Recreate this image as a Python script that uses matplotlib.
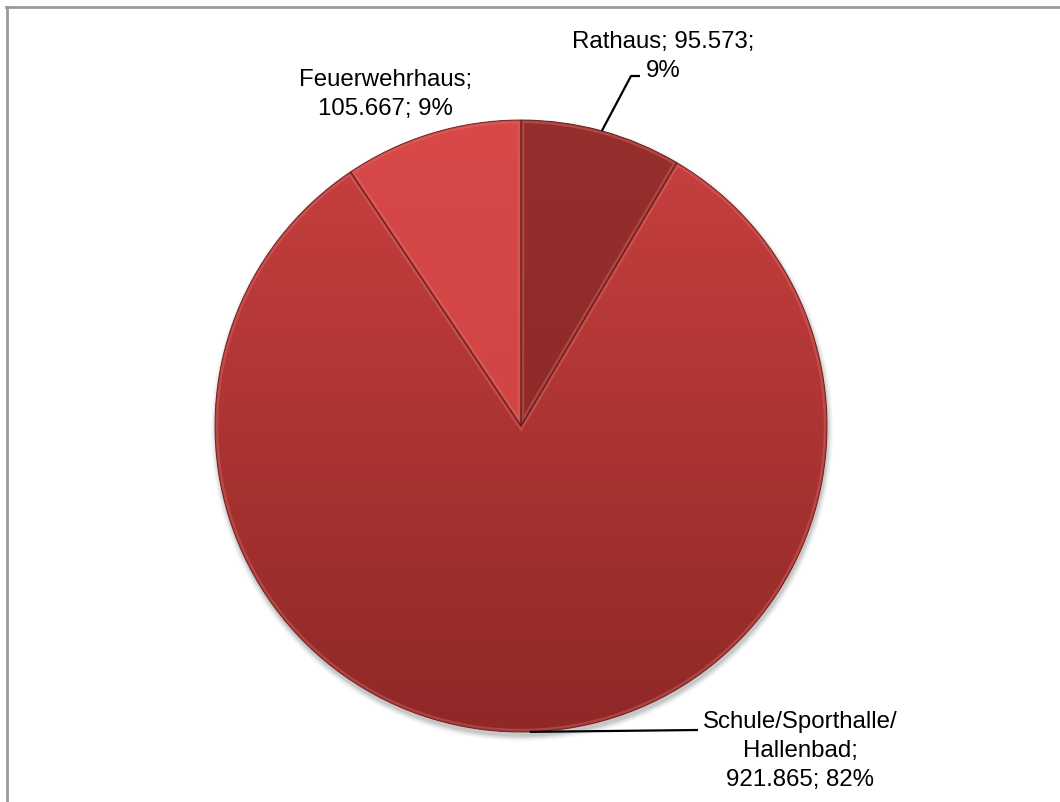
import matplotlib
matplotlib.use("Agg")
import numpy as np
import matplotlib.pyplot as plt
from matplotlib.colors import LinearSegmentedColormap
from matplotlib.patches import Circle, PathPatch
from matplotlib.lines import Line2D

# Energy use by building (values in German notation, '.' = thousands)
categories = ["Rathaus", "Schule/Sporthalle/Hallenbad", "Feuerwehrhaus"]
values = [95573, 921865, 105667]

# Top / bottom colours of each slice's vertical gradient
top_colors = ["#952f2d", "#c9413f", "#d84948"]
bottom_colors = ["#862726", "#8f2827", "#c84241"]

W, H = 1060, 802
CX, CY, R = 521, H - 426, 306

plt.rcParams["font.family"] = ["Liberation Sans", "DejaVu Sans"]

fig = plt.figure(figsize=(W / 100, H / 100), dpi=100)
ax = fig.add_axes([0, 0, 1, 1])

wedges, _ = ax.pie(values, radius=R, center=(CX, CY), startangle=90,
                   counterclock=False, colors=top_colors,
                   wedgeprops=dict(linewidth=0))

ax.set_xlim(0, W)
ax.set_ylim(0, H)
ax.set_aspect("equal")
ax.axis("off")

# soft drop shadow under the pie
for k, a in enumerate(np.linspace(0.10, 0.02, 6)):
    ax.add_patch(Circle((CX + 1, CY - 4), R + 0.5 + k * 1.0, color="#555555",
                        alpha=a, lw=0, zorder=0))

grad = np.linspace(0, 1, 256).reshape(-1, 1)
for w, ct, cb in zip(wedges, top_colors, bottom_colors):
    w.set_zorder(1)
    cmap = LinearSegmentedColormap.from_list("g", [cb, ct])
    im = ax.imshow(grad, cmap=cmap, origin="lower", aspect="auto",
                   extent=(CX - R, CX + R, CY - R, CY + R),
                   interpolation="bilinear", zorder=2)
    im.set_clip_path(w)
    # bevel: light rim inside each slice, dark fine outline
    rim = PathPatch(w.get_path(), transform=w.get_transform(), fill=False,
                    edgecolor="#f07a76", lw=4.5, alpha=0.35, zorder=3)
    ax.add_patch(rim)
    rim.set_clip_path(w)
    inner = PathPatch(w.get_path(), transform=w.get_transform(), fill=False,
                      edgecolor="#6a1c1c", lw=2.2, alpha=0.18, zorder=3)
    ax.add_patch(inner)
    inner.set_clip_path(w)
    ax.add_patch(PathPatch(w.get_path(), transform=w.get_transform(),
                           fill=False, edgecolor="#5c1a1a", lw=0.7,
                           alpha=0.8, zorder=4))

total = sum(values)


def fmt_num(v):
    return f"{v:,}".replace(",", ".")


def wrap_label(text, width=18):
    # break after '/' or after '; ' and fill lines greedily
    tokens, cur = [], ""
    for ch in text:
        cur += ch
        if ch in "/ ":
            tokens.append(cur)
            cur = ""
    tokens.append(cur)
    lines, line = [], ""
    for t in tokens:
        if line and len((line + t).rstrip()) > width:
            lines.append(line.rstrip())
            line = t
        else:
            line += t
    lines.append(line.rstrip())
    return "\n".join(lines)


labels = [wrap_label(f"{c}; {fmt_num(v)}; {round(100 * v / total)}%")
          for c, v in zip(categories, values)]

# label anchors (x centre, last-line baseline) in pixel rows from top
label_pos = [(663, 77), (800, 786), (385.5, 115)]
leader_elbow = [[(631, 76), (640, 76)], [(698, 730)], None]

for w, lab, (lx, ly), elbow in zip(wedges, labels, label_pos, leader_elbow):
    ax.text(lx, H - ly, lab, ha="center", va="baseline", fontsize=17.3,
            color="#000000", linespacing=1.40, zorder=6)
    if elbow:
        mid = np.deg2rad((w.theta1 + w.theta2) / 2)
        xs = [CX + R * np.cos(mid)] + [p[0] for p in elbow]
        ys = [CY + R * np.sin(mid)] + [H - p[1] for p in elbow]
        ax.plot(xs, ys, color="#000000", lw=1.6, zorder=5,
                solid_capstyle="butt")

# chart area border (open towards right and bottom edges)
fig.add_artist(Line2D([7 / W, 7 / W], [0, 1 - 7 / H], transform=fig.transFigure,
                      color="#9a9a9a", lw=2.0))
fig.add_artist(Line2D([6 / W, 1], [1 - 7 / H, 1 - 7 / H], transform=fig.transFigure,
                      color="#9a9a9a", lw=2.0))

fig.savefig("out.png", dpi=100, facecolor="white")
